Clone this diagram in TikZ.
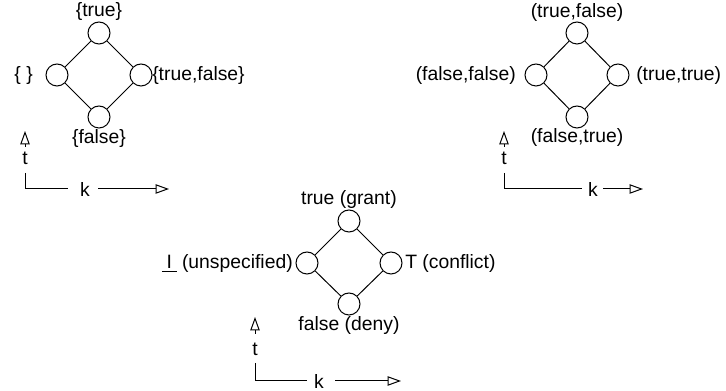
\documentclass[tikz,border=0pt]{standalone}
\usepackage{fontspec}
\setmainfont{Liberation Sans}
\usetikzlibrary{arrows.meta}
\tikzset{
  vertex/.style={circle,draw,line width=0.75pt,minimum size=16.5pt,inner sep=0pt},
  lbl/.style={inner sep=0pt,font=\fontsize{14.5}{17}\selectfont},
  axis/.style={line width=0.75pt},
  opentip/.style={axis,-{Triangle[open,length=10pt,width=7pt]}}
}
\begin{document}
\begin{tikzpicture}[x=0.75pt,y=-0.75pt]
\useasboundingbox (0,0) rectangle (726,391);
% sets
\node[vertex] (st) at (99,33) {};
\node[vertex] (sl) at (57,75) {};
\node[vertex] (sr) at (141,75) {};
\node[vertex] (sb) at (99,117) {};
\draw[axis] (st)--(sl)--(sb)--(sr)--(st);
\node[lbl] (st-l) at (99,12) {\{true\}};
\node[lbl,anchor=east] (sl-l) at (33,76) {\{ \}};
\node[lbl,anchor=west] (sr-l) at (152,76) {\{true,false\}};
\node[lbl] (sb-l) at (99,139) {\{false\}};
\node[lbl] (s-t) at (25,158) {t};
\node[lbl] (s-k) at (85,189) {k};
\coordinate (s-up0) at (25,147);
\coordinate (s-up1) at (25,131);
\coordinate (s-c0) at (25,173);
\coordinate (s-c1) at (68,189);
\coordinate (s-r0) at (98,189);
\coordinate (s-r1) at (169,189);
\draw[opentip] (s-up0)--(s-up1);
\draw[axis] (s-c0) |- (s-c1);
\draw[opentip] (s-r0)--(s-r1);
% pairs
\node[vertex] (pt) at (577,33) {};
\node[vertex] (pl) at (536,75) {};
\node[vertex] (pr) at (618,75) {};
\node[vertex] (pb) at (577,117) {};
\draw[axis] (pt)--(pl)--(pb)--(pr)--(pt);
\node[lbl] (pt-l) at (577,13) {(true,false)};
\node[lbl,anchor=east] (pl-l) at (516,76) {(false,false)};
\node[lbl,anchor=west] (pr-l) at (636,76) {(true,true)};
\node[lbl] (pb-l) at (577,138) {(false,true)};
\node[lbl] (p-t) at (504,158) {t};
\node[lbl] (p-k) at (593,189) {k};
\coordinate (p-up0) at (504,147);
\coordinate (p-up1) at (504,131);
\coordinate (p-c0) at (504,173);
\coordinate (p-c1) at (582,189);
\coordinate (p-r0) at (603,189);
\coordinate (p-r1) at (643,189);
\draw[opentip] (p-up0)--(p-up1);
\draw[axis] (p-c0) |- (p-c1);
\draw[opentip] (p-r0)--(p-r1);
% decisions
\node[vertex] (dt) at (349,221) {};
\node[vertex] (dl) at (307,263) {};
\node[vertex] (dr) at (391,263) {};
\node[vertex] (db) at (349,304) {};
\draw[axis] (dt)--(dl)--(db)--(dr)--(dt);
\node[lbl] (dt-l) at (349,200) {true (grant)};
\node[lbl,anchor=east] (dl-l) at (293,264) {\underline{\hspace{3.5pt}I\hspace{3.5pt}} (unspecified)};
\node[lbl,anchor=west] (dr-l) at (405,264) {T (conflict)};
\node[lbl] (db-l) at (349,326) {false (deny)};
\node[lbl] (d-t) at (255,349) {t};
\node[lbl] (d-k) at (319,381) {k};
\coordinate (d-up0) at (255,334);
\coordinate (d-up1) at (255,317);
\coordinate (d-c0) at (255,363);
\coordinate (d-c1) at (307,381);
\coordinate (d-r0) at (335,381);
\coordinate (d-r1) at (401,381);
\draw[opentip] (d-up0)--(d-up1);
\draw[axis] (d-c0) |- (d-c1);
\draw[opentip] (d-r0)--(d-r1);
\end{tikzpicture}
\end{document}
